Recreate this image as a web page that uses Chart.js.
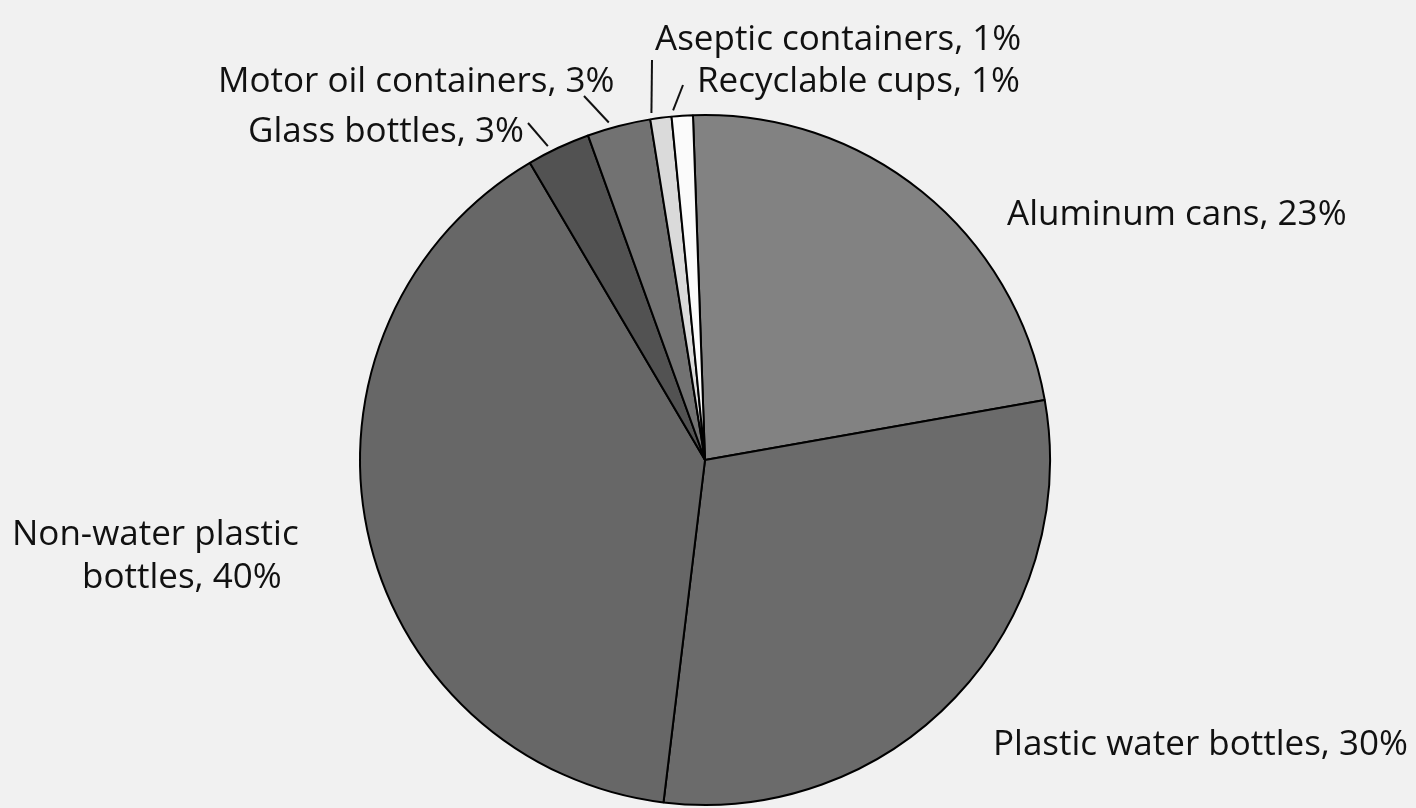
<!DOCTYPE html>
<html>
<head>
<meta charset="utf-8">
<script src="https://cdn.jsdelivr.net/npm/chart.js@4/dist/chart.umd.min.js"></script>
<style>
  html, body { margin: 0; padding: 0; background: #f1f1f1; }
  #wrap { width: 1416px; height: 808px; position: relative; }
</style>
</head>
<body>
<div id="wrap"><canvas id="pie"></canvas></div>
<script>
// data (clockwise from 12 o'clock)
const categories = [
  "Aluminum cans",
  "Plastic water bottles",
  "Non-water plastic bottles",
  "Glass bottles",
  "Motor oil containers",
  "Aseptic containers",
  "Recyclable cups"
];
const shares = [23, 30, 40, 3, 3, 1, 1];
const sliceColors = ["#828282", "#6b6b6b", "#676767", "#525252", "#727272", "#dadada", "#fbfbfb"];

// label placement: text lines, anchor (left x, first baseline), leader end point
const labelSpots = [
  { lines: ["Aluminum cans, 23%"], x: 1007, y: 225 },
  { lines: ["Plastic water bottles, 30%"], x: 993, y: 755 },
  { lines: ["Non-water plastic", "bottles, 40%"], x: 12, y: 545, indent: [0, 70] },
  { lines: ["Glass bottles, 3%"], x: 248, y: 142, lead: [528, 123] },
  { lines: ["Motor oil containers, 3%"], x: 218, y: 92, lead: [584, 96] },
  { lines: ["Aseptic containers, 1%"], x: 655, y: 50, lead: [652, 60] },
  { lines: ["Recyclable cups, 1%"], x: 697, y: 92, lead: [683, 85] }
];

const pieLabels = {
  id: "pieLabels",
  afterDraw(chart) {
    const ctx = chart.ctx;
    const arcs = chart.getDatasetMeta(0).data;
    ctx.save();
    ctx.font = '35px "Open Sans", "Noto Sans", sans-serif';
    ctx.fillStyle = "#111";
    ctx.textBaseline = "alphabetic";
    labelSpots.forEach((spot, i) => {
      spot.lines.forEach((line, k) => {
        const dx = spot.indent ? spot.indent[k] : 0;
        ctx.fillText(line, spot.x + dx, spot.y + k * 43);
      });
      if (spot.lead) {
        // leader from just outside the slice edge to the label
        const a = arcs[i];
        const mid = (a.startAngle + a.endAngle) / 2 - 0.025;
        const r = a.outerRadius + 6;
        ctx.beginPath();
        ctx.strokeStyle = "#111";
        ctx.lineWidth = 2;
        ctx.moveTo(a.x + Math.cos(mid) * r, a.y + Math.sin(mid) * r);
        ctx.lineTo(spot.lead[0], spot.lead[1]);
        ctx.stroke();
      }
    });
    ctx.restore();
  }
};

new Chart(document.getElementById("pie"), {
  type: "pie",
  data: {
    labels: categories,
    datasets: [{
      data: shares,
      backgroundColor: sliceColors,
      borderColor: "#000",
      borderWidth: 2
    }]
  },
  options: {
    responsive: true,
    maintainAspectRatio: false,
    animation: false,
    rotation: -2,
    layout: { padding: { top: 114, bottom: 2, left: 359, right: 365 } },
    plugins: {
      legend: { display: false },
      tooltip: { enabled: false }
    }
  },
  plugins: [pieLabels]
});
</script>
</body>
</html>
